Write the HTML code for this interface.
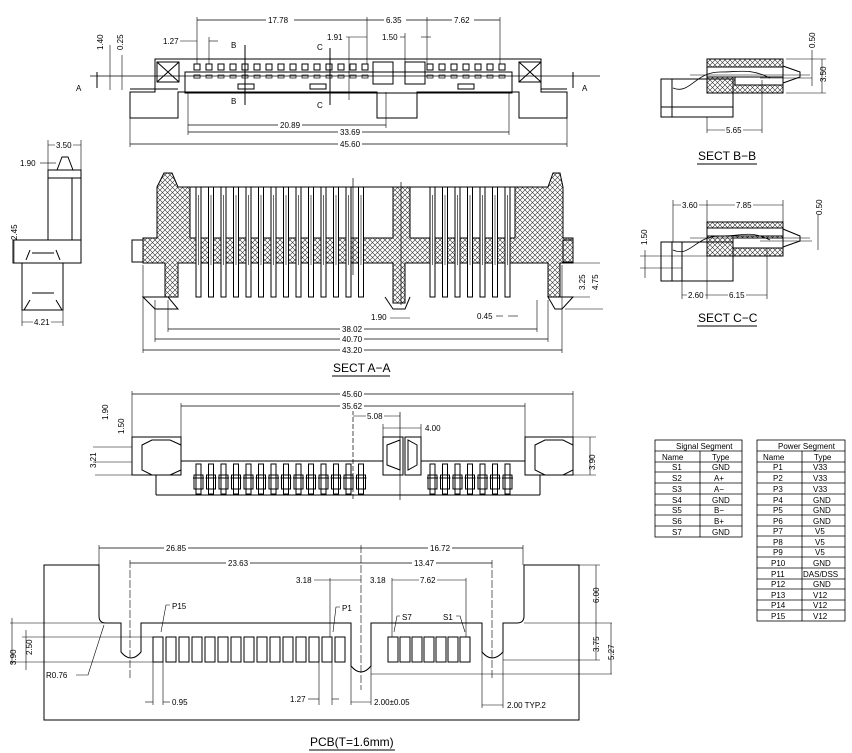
<!DOCTYPE html>
<html><head><meta charset="utf-8"><style>
html,body{margin:0;padding:0;background:#fff;}
svg{display:block;}
text{font-family:"Liberation Sans",sans-serif;font-size:8px;fill:#000;stroke:none;}
.t{font-size:12px;}
</style></head><body>
<svg width="852" height="753" viewBox="0 0 852 753" xmlns="http://www.w3.org/2000/svg" fill="none" stroke="#000" stroke-width="1">
<defs>
<pattern id="h" width="5" height="5" patternUnits="userSpaceOnUse">
<rect width="5" height="5" fill="#fff" stroke="none"/>
<path d="M0,0L5,5M5,0L0,5" stroke="#333" stroke-width="0.6"/>
</pattern>
</defs>

<!-- ===== TOP VIEW ===== -->
<g>
<path d="M155,59H541V92H567V118H519V92H417V118H377V92H178V118H130V92H155Z"/>
<rect x="185" y="72" width="327" height="21"/>
<line x1="178" y1="89" x2="130" y2="89"/>
<line x1="567" y1="89" x2="541" y2="89"/>
<rect x="157" y="62" width="22" height="20"/><path d="M157,62L179,82M179,62L157,82"/>
<rect x="519" y="62" width="22" height="20"/><path d="M519,62L541,82M541,62L519,82"/>
<rect x="373" y="62" width="20" height="22"/><rect x="405" y="62" width="20" height="22"/>
<g id="tp">
<rect x="194" y="64" width="6" height="6"/><rect x="194" y="75" width="6" height="3" fill="#fff" stroke-width="0.7"/>
</g>
<g>
<use href="#tp" x="0"/><use href="#tp" x="12"/><use href="#tp" x="24"/><use href="#tp" x="36"/><use href="#tp" x="48"/><use href="#tp" x="60"/><use href="#tp" x="72"/><use href="#tp" x="84"/><use href="#tp" x="96"/><use href="#tp" x="108"/><use href="#tp" x="120"/><use href="#tp" x="132"/><use href="#tp" x="144"/><use href="#tp" x="156"/><use href="#tp" x="168"/>
<use href="#tp" x="233"/><use href="#tp" x="245"/><use href="#tp" x="257"/><use href="#tp" x="269"/><use href="#tp" x="281"/><use href="#tp" x="293"/><use href="#tp" x="305"/>
</g>
<rect x="238" y="84" width="16" height="5"/><rect x="310" y="84" width="16" height="5"/><rect x="458" y="84" width="16" height="5"/>
<line x1="245" y1="45" x2="245" y2="105"/><line x1="330" y1="48" x2="330" y2="105"/>
<text x="231" y="48">B</text><text x="231" y="104">B</text><text x="317" y="50">C</text><text x="317" y="108">C</text>
<line x1="90" y1="76" x2="600" y2="76" stroke-width="0.8"/>
<text x="76" y="91">A</text><text x="582" y="91">A</text>
<line x1="97" y1="72" x2="97" y2="88"/><line x1="573" y1="72" x2="573" y2="88"/>
<line x1="197" y1="20" x2="500" y2="20" stroke-width="0.7"/>
<line x1="197" y1="17" x2="197" y2="64" stroke-width="0.6"/><line x1="367" y1="17" x2="367" y2="64" stroke-width="0.6"/><line x1="427" y1="17" x2="427" y2="64" stroke-width="0.6"/><line x1="500" y1="17" x2="500" y2="64" stroke-width="0.6"/>
<rect x="266" y="16" width="28" height="9" fill="#fff" stroke="none"/><text x="268" y="23">17.78</text>
<rect x="384" y="16" width="22" height="9" fill="#fff" stroke="none"/><text x="386" y="23">6.35</text>
<rect x="452" y="16" width="22" height="9" fill="#fff" stroke="none"/><text x="454" y="23">7.62</text>
<text x="163" y="44">1.27</text><line x1="180" y1="41" x2="197" y2="41" stroke-width="0.6"/><line x1="209" y1="41" x2="218" y2="41" stroke-width="0.6"/><line x1="209" y1="37" x2="209" y2="64" stroke-width="0.6"/>
<text x="327" y="40">1.91</text><line x1="346" y1="37" x2="367" y2="37" stroke-width="0.6"/><line x1="349" y1="37" x2="349" y2="100" stroke-width="0.6"/>
<text x="382" y="40">1.50</text><line x1="400" y1="37" x2="405" y2="37" stroke-width="0.6"/><line x1="421" y1="37" x2="431" y2="37" stroke-width="0.6"/><line x1="405" y1="33" x2="405" y2="62" stroke-width="0.6"/>
<text x="103" y="50" transform="rotate(-90 103 50)">1.40</text><text x="123" y="50" transform="rotate(-90 123 50)">0.25</text>
<line x1="110" y1="45" x2="110" y2="90" stroke-width="0.6"/><line x1="122" y1="55" x2="122" y2="90" stroke-width="0.6"/>
<line x1="188" y1="125" x2="386" y2="125" stroke-width="0.7"/><line x1="386" y1="92" x2="386" y2="128" stroke-width="0.6"/>
<rect x="278" y="121" width="24" height="9" fill="#fff" stroke="none"/><text x="280" y="128">20.89</text>
<line x1="188" y1="132" x2="509" y2="132" stroke-width="0.7"/><line x1="188" y1="92" x2="188" y2="135" stroke-width="0.6"/><line x1="509" y1="92" x2="509" y2="135" stroke-width="0.6"/>
<rect x="338" y="128" width="24" height="9" fill="#fff" stroke="none"/><text x="340" y="135">33.69</text>
<line x1="130" y1="144" x2="567" y2="144" stroke-width="0.7"/><line x1="130" y1="118" x2="130" y2="147" stroke-width="0.6"/><line x1="567" y1="118" x2="567" y2="147" stroke-width="0.6"/>
<rect x="338" y="140" width="24" height="9" fill="#fff" stroke="none"/><text x="340" y="147">45.60</text>
</g>

<!-- ===== LEFT SIDE VIEW ===== -->
<g>
<rect x="48" y="170" width="33" height="70"/>
<path d="M57,170L62,157H68L73,170"/>
<line x1="48" y1="178" x2="81" y2="178"/><line x1="72" y1="178" x2="72" y2="240"/>
<rect x="13" y="240" width="68" height="23"/>
<rect x="22" y="263" width="41" height="47"/>
<path d="M30,250L26,260M56,250L60,260M30,300L24,310M56,300L62,310"/>
<line x1="32" y1="253" x2="54" y2="253"/><line x1="32" y1="293" x2="54" y2="293"/>
<line x1="48" y1="140" x2="48" y2="170" stroke-width="0.6"/><line x1="81" y1="140" x2="81" y2="170" stroke-width="0.6"/>
<line x1="48" y1="145" x2="81" y2="145" stroke-width="0.6"/><rect x="55" y="141" width="18" height="9" fill="#fff" stroke="none"/><text x="56" y="148">3.50</text>
<text x="20" y="166">1.90</text><line x1="40" y1="163" x2="56" y2="163" stroke-width="0.6"/>
<text x="17" y="240" transform="rotate(-90 17 240)">2.45</text><line x1="14" y1="240" x2="14" y2="263" stroke-width="0.6"/>
<line x1="22" y1="310" x2="22" y2="326" stroke-width="0.6"/><line x1="63" y1="310" x2="63" y2="326" stroke-width="0.6"/>
<line x1="22" y1="322" x2="63" y2="322" stroke-width="0.6"/><rect x="33" y="318" width="18" height="9" fill="#fff" stroke="none"/><text x="34" y="325">4.21</text>
</g>

<!-- ===== SECT A-A ===== -->
<g>
<path d="M143,238H157V187L164,173H172L178,187H548L553,173H560L563,187V238H573V263H560V297H548V263H405V303H393V263H178V297H165V263H143Z" fill="url(#h)"/>
<rect x="190" y="187" width="203" height="51" fill="#fff"/>
<rect x="410" y="187" width="105" height="51" fill="#fff"/>
<rect x="132" y="240" width="11" height="22"/><rect x="563" y="240" width="10" height="22"/>
<path d="M143,297H168L178,309H155Z"/><path d="M548,297H573L562,309H555Z"/>
<path d="M385,297L393,309H405L410,297"/>
<g id="ap"><rect x="196" y="187" width="5" height="110" fill="#fff"/><line x1="198.5" y1="195" x2="198.5" y2="265" stroke-width="0.6"/></g>
<use href="#ap" x="12.5"/><use href="#ap" x="25"/><use href="#ap" x="37.5"/><use href="#ap" x="50"/><use href="#ap" x="62.5"/><use href="#ap" x="75"/><use href="#ap" x="87.5"/><use href="#ap" x="100"/><use href="#ap" x="112.5"/><use href="#ap" x="125"/><use href="#ap" x="137.5"/><use href="#ap" x="150"/><use href="#ap" x="162.5"/>
<use href="#ap" x="234"/><use href="#ap" x="246.5"/><use href="#ap" x="259"/><use href="#ap" x="271.5"/><use href="#ap" x="284"/><use href="#ap" x="296.5"/><use href="#ap" x="309"/>
<line x1="353" y1="178" x2="353" y2="275" stroke-width="0.7"/><line x1="401" y1="182" x2="401" y2="305" stroke-width="0.7"/>
<text x="371" y="320">1.90</text><line x1="390" y1="318" x2="410" y2="318" stroke-width="0.6"/>
<text x="477" y="319">0.45</text><line x1="496" y1="316" x2="503" y2="316" stroke-width="0.6"/><line x1="508" y1="316" x2="518" y2="316" stroke-width="0.6"/>
<line x1="168" y1="329" x2="537" y2="329" stroke-width="0.7"/><line x1="155" y1="339" x2="548" y2="339" stroke-width="0.7"/><line x1="143" y1="350" x2="562" y2="350" stroke-width="0.7"/>
<line x1="168" y1="300" x2="168" y2="332" stroke-width="0.6"/><line x1="537" y1="300" x2="537" y2="332" stroke-width="0.6"/>
<line x1="155" y1="300" x2="155" y2="342" stroke-width="0.6"/><line x1="548" y1="300" x2="548" y2="342" stroke-width="0.6"/>
<line x1="143" y1="265" x2="143" y2="353" stroke-width="0.6"/><line x1="562" y1="265" x2="562" y2="353" stroke-width="0.6"/>
<rect x="340" y="325" width="24" height="9" fill="#fff" stroke="none"/><text x="342" y="332">38.02</text>
<rect x="340" y="335" width="24" height="9" fill="#fff" stroke="none"/><text x="342" y="342">40.70</text>
<rect x="340" y="346" width="24" height="9" fill="#fff" stroke="none"/><text x="342" y="353">43.20</text>
<text class="t" x="333" y="372">SECT A−A</text><line x1="332" y1="376" x2="390" y2="376"/>
<text x="585" y="290" transform="rotate(-90 585 290)">3.25</text><text x="598" y="290" transform="rotate(-90 598 290)">4.75</text>
<line x1="565" y1="263" x2="600" y2="263" stroke-width="0.6"/><line x1="565" y1="297" x2="590" y2="297" stroke-width="0.6"/><line x1="565" y1="309" x2="603" y2="309" stroke-width="0.6"/>
</g>

<!-- ===== SECT B-B ===== -->
<g>
<rect x="707" y="59" width="76" height="34" fill="url(#h)"/>
<rect x="707" y="67" width="76" height="10" fill="#fff"/>
<rect x="735" y="77" width="48" height="8" fill="#fff"/>
<rect x="661" y="79" width="72" height="38"/><line x1="672" y1="79" x2="672" y2="117"/><line x1="661" y1="107" x2="733" y2="107"/>
<path d="M783,66L800,72V77L783,83"/>
<path d="M673,88C690,95 695,72 720,72C740,72 750,68 770,78" stroke-width="0.8"/>
<line x1="690" y1="75" x2="810" y2="75" stroke-width="0.6"/><line x1="760" y1="78" x2="812" y2="78" stroke-width="0.6"/>
<line x1="707" y1="117" x2="707" y2="133" stroke-width="0.6"/><line x1="762" y1="80" x2="762" y2="133" stroke-width="0.6"/>
<line x1="707" y1="130" x2="762" y2="130" stroke-width="0.6"/><rect x="725" y="126" width="18" height="9" fill="#fff" stroke="none"/><text x="726" y="133">5.65</text>
<text x="815" y="48" transform="rotate(-90 815 48)">0.50</text><text x="826" y="82" transform="rotate(-90 826 82)">3.50</text>
<line x1="812" y1="50" x2="812" y2="86" stroke-width="0.6"/><line x1="786" y1="59" x2="826" y2="59" stroke-width="0.6"/><line x1="786" y1="93" x2="826" y2="93" stroke-width="0.6"/><line x1="822" y1="59" x2="822" y2="93" stroke-width="0.6"/>
<text class="t" x="698" y="160">SECT B−B</text><line x1="697" y1="164" x2="757" y2="164"/>
</g>

<!-- ===== SECT C-C ===== -->
<g>
<rect x="707" y="222" width="76" height="34" fill="url(#h)"/>
<rect x="707" y="228" width="76" height="8" fill="#fff"/>
<rect x="733" y="238" width="50" height="10" fill="#fff"/>
<rect x="661" y="242" width="72" height="39"/><line x1="672" y1="242" x2="672" y2="281"/><line x1="682" y1="242" x2="682" y2="281"/>
<path d="M783,229L800,236V241L783,247"/>
<path d="M673,250C690,258 695,236 720,236C745,236 750,230 770,240" stroke-width="0.8"/>
<line x1="690" y1="238" x2="810" y2="238" stroke-width="0.6"/><line x1="760" y1="241" x2="812" y2="241" stroke-width="0.6"/>
<line x1="673" y1="200" x2="673" y2="242" stroke-width="0.6"/><line x1="707" y1="200" x2="707" y2="299" stroke-width="0.6"/><line x1="783" y1="200" x2="783" y2="222" stroke-width="0.6"/>
<line x1="673" y1="205" x2="783" y2="205" stroke-width="0.6"/>
<rect x="681" y="201" width="18" height="9" fill="#fff" stroke="none"/><text x="682" y="208">3.60</text>
<rect x="735" y="201" width="18" height="9" fill="#fff" stroke="none"/><text x="736" y="208">7.85</text>
<line x1="682" y1="281" x2="682" y2="299" stroke-width="0.6"/><line x1="767" y1="248" x2="767" y2="299" stroke-width="0.6"/>
<line x1="682" y1="295" x2="767" y2="295" stroke-width="0.6"/>
<rect x="687" y="291" width="18" height="9" fill="#fff" stroke="none"/><text x="688" y="298">2.60</text>
<rect x="728" y="291" width="18" height="9" fill="#fff" stroke="none"/><text x="729" y="298">6.15</text>
<text x="647" y="245" transform="rotate(-90 647 245)">1.50</text><line x1="645" y1="250" x2="645" y2="278" stroke-width="0.6"/>
<line x1="640" y1="256" x2="707" y2="256" stroke-width="0.6"/><line x1="640" y1="268" x2="682" y2="268" stroke-width="0.6"/>
<text x="822" y="215" transform="rotate(-90 822 215)">0.50</text><line x1="818" y1="215" x2="818" y2="250" stroke-width="0.6"/>
<text class="t" x="698" y="322">SECT C−C</text><line x1="697" y1="326" x2="757" y2="326"/>
</g>

<!-- ===== BOTTOM VIEW ===== -->
<g>
<rect x="132" y="437" width="49" height="38"/><rect x="525" y="437" width="48" height="38"/>
<path d="M142,445L152,440H170L181,445V470L170,475H152L142,470Z"/>
<path d="M535,445L545,440H563L573,445V470L563,475H545L535,470Z"/>
<rect x="383" y="437" width="20" height="38"/><rect x="405" y="437" width="16" height="38"/>
<path d="M387,445L400,440V470L387,465Z"/><path d="M417,445L408,440V470L417,465Z"/>
<line x1="181" y1="461" x2="383" y2="461"/><line x1="421" y1="461" x2="525" y2="461"/>
<line x1="156" y1="475" x2="156" y2="495"/><line x1="540" y1="475" x2="540" y2="495"/><line x1="156" y1="495" x2="540" y2="495"/>
<g id="bp"><rect x="196" y="464" width="5" height="30"/><rect x="194" y="475" width="9" height="14" fill="none"/><line x1="193" y1="478" x2="204" y2="478"/></g>
<use href="#bp" x="12.5"/><use href="#bp" x="25"/><use href="#bp" x="37.5"/><use href="#bp" x="50"/><use href="#bp" x="62.5"/><use href="#bp" x="75"/><use href="#bp" x="87.5"/><use href="#bp" x="100"/><use href="#bp" x="112.5"/><use href="#bp" x="125"/><use href="#bp" x="137.5"/><use href="#bp" x="150"/><use href="#bp" x="162.5"/>
<use href="#bp" x="234"/><use href="#bp" x="246.5"/><use href="#bp" x="259"/><use href="#bp" x="271.5"/><use href="#bp" x="284"/><use href="#bp" x="296.5"/><use href="#bp" x="309"/>
<line x1="353" y1="410" x2="353" y2="500" stroke-dasharray="5,2" stroke-width="0.7"/><line x1="400" y1="412" x2="400" y2="500" stroke-width="0.7"/>
<line x1="132" y1="394" x2="573" y2="394" stroke-width="0.7"/><line x1="132" y1="391" x2="132" y2="437" stroke-width="0.6"/><line x1="573" y1="391" x2="573" y2="437" stroke-width="0.6"/>
<rect x="340" y="390" width="24" height="9" fill="#fff" stroke="none"/><text x="342" y="397">45.60</text>
<line x1="181" y1="406" x2="525" y2="406" stroke-width="0.7"/><line x1="181" y1="403" x2="181" y2="461" stroke-width="0.6"/><line x1="525" y1="403" x2="525" y2="437" stroke-width="0.6"/>
<rect x="340" y="402" width="24" height="9" fill="#fff" stroke="none"/><text x="342" y="409">35.62</text>
<line x1="353" y1="416" x2="400" y2="416" stroke-width="0.6"/><rect x="366" y="412" width="18" height="9" fill="#fff" stroke="none"/><text x="367" y="419">5.08</text>
<line x1="383" y1="428" x2="421" y2="428" stroke-width="0.6"/><line x1="383" y1="424" x2="383" y2="437" stroke-width="0.6"/><line x1="421" y1="424" x2="421" y2="437" stroke-width="0.6"/><text x="425" y="431">4.00</text>
<text x="108" y="420" transform="rotate(-90 108 420)">1.90</text><text x="124" y="434" transform="rotate(-90 124 434)">1.50</text>
<text x="96" y="468" transform="rotate(-90 96 468)">3.21</text>
<line x1="93" y1="447" x2="132" y2="447" stroke-width="0.6"/><line x1="93" y1="462" x2="132" y2="462" stroke-width="0.6"/><line x1="95" y1="475" x2="132" y2="475" stroke-width="0.6"/>
<text x="595" y="470" transform="rotate(-90 595 470)">3.90</text><line x1="590" y1="437" x2="590" y2="475" stroke-width="0.6"/>
<line x1="573" y1="437" x2="596" y2="437" stroke-width="0.6"/><line x1="573" y1="475" x2="596" y2="475" stroke-width="0.6"/>
</g>

<!-- ===== TABLES ===== -->
<g stroke-width="0.8">
<rect x="655" y="440" width="87" height="97"/>
<line x1="655" y1="451" x2="742" y2="451"/><line x1="700" y1="451" x2="700" y2="537"/>
<line x1="655" y1="462" x2="742" y2="462"/><line x1="655" y1="472" x2="742" y2="472"/><line x1="655" y1="483" x2="742" y2="483"/><line x1="655" y1="494" x2="742" y2="494"/><line x1="655" y1="505" x2="742" y2="505"/><line x1="655" y1="515" x2="742" y2="515"/><line x1="655" y1="526" x2="742" y2="526"/>
</g>
<g font-size="9">
<text x="676" y="449">Signal  Segment</text>
<text x="662" y="460">Name</text><text x="712" y="460">Type</text>
<text x="672" y="470">S1</text><text x="712" y="470">GND</text>
<text x="672" y="481">S2</text><text x="714" y="481">A+</text>
<text x="672" y="492">S3</text><text x="714" y="492">A−</text>
<text x="672" y="503">S4</text><text x="712" y="503">GND</text>
<text x="672" y="513">S5</text><text x="714" y="513">B−</text>
<text x="672" y="524">S6</text><text x="714" y="524">B+</text>
<text x="672" y="535">S7</text><text x="712" y="535">GND</text>
</g>
<g stroke-width="0.8">
<rect x="757" y="440" width="88" height="181"/>
<line x1="757" y1="451" x2="845" y2="451"/><line x1="802" y1="451" x2="802" y2="621"/>
<line x1="757" y1="462" x2="845" y2="462"/><line x1="757" y1="472" x2="845" y2="472"/><line x1="757" y1="483" x2="845" y2="483"/><line x1="757" y1="494" x2="845" y2="494"/><line x1="757" y1="505" x2="845" y2="505"/><line x1="757" y1="515" x2="845" y2="515"/><line x1="757" y1="526" x2="845" y2="526"/><line x1="757" y1="536" x2="845" y2="536"/><line x1="757" y1="547" x2="845" y2="547"/><line x1="757" y1="557" x2="845" y2="557"/><line x1="757" y1="568" x2="845" y2="568"/><line x1="757" y1="579" x2="845" y2="579"/><line x1="757" y1="589" x2="845" y2="589"/><line x1="757" y1="600" x2="845" y2="600"/><line x1="757" y1="610" x2="845" y2="610"/>
</g>
<g font-size="9">
<text x="778" y="449">Power  Segment</text>
<text x="763" y="460">Name</text><text x="814" y="460">Type</text>
<text x="773" y="470">P1</text><text x="813" y="470">V33</text>
<text x="773" y="481">P2</text><text x="813" y="481">V33</text>
<text x="773" y="492">P3</text><text x="813" y="492">V33</text>
<text x="773" y="503">P4</text><text x="813" y="503">GND</text>
<text x="773" y="513">P5</text><text x="813" y="513">GND</text>
<text x="773" y="524">P6</text><text x="813" y="524">GND</text>
<text x="773" y="534">P7</text><text x="815" y="534">V5</text>
<text x="773" y="545">P8</text><text x="815" y="545">V5</text>
<text x="773" y="555">P9</text><text x="815" y="555">V5</text>
<text x="771" y="566">P10</text><text x="813" y="566">GND</text>
<text x="771" y="577">P11</text><text x="803" y="577" font-size="8">DAS/DSS</text>
<text x="771" y="587">P12</text><text x="813" y="587">GND</text>
<text x="771" y="598">P13</text><text x="813" y="598">V12</text>
<text x="771" y="608">P14</text><text x="813" y="608">V12</text>
<text x="771" y="619">P15</text><text x="813" y="619">V12</text>
</g>

<!-- ===== PCB ===== -->
<g>
<path d="M44,565H99V616Q99,623 106,623H121V652Q131,664 141,652V623H351V666Q361,678 371,666V623H482V652Q492,664 503,652V623H517Q524,623 524,616V565H579V720H44Z"/>
<g id="pd"><rect x="153" y="637" width="10" height="25"/></g>
<use href="#pd" x="13"/><use href="#pd" x="26"/><use href="#pd" x="39"/><use href="#pd" x="52"/><use href="#pd" x="65"/><use href="#pd" x="78"/><use href="#pd" x="91"/><use href="#pd" x="104"/><use href="#pd" x="117"/><use href="#pd" x="130"/><use href="#pd" x="143"/><use href="#pd" x="156"/><use href="#pd" x="169"/><use href="#pd" x="182"/>
<use href="#pd" x="235"/><use href="#pd" x="247"/><use href="#pd" x="259"/><use href="#pd" x="271"/><use href="#pd" x="283"/><use href="#pd" x="295"/><use href="#pd" x="307"/>
<line x1="10" y1="623" x2="106" y2="623" stroke-width="0.6"/><line x1="10" y1="662" x2="153" y2="662" stroke-width="0.6"/><line x1="22" y1="637" x2="153" y2="637" stroke-width="0.6"/>
<line x1="503" y1="660" x2="600" y2="660" stroke-width="0.6"/><line x1="371" y1="674" x2="612" y2="674" stroke-width="0.6"/><line x1="524" y1="623" x2="612" y2="623" stroke-width="0.6"/><line x1="579" y1="565" x2="600" y2="565" stroke-width="0.6"/>
<text x="16" y="665" transform="rotate(-90 16 665)">3.90</text><text x="32" y="655" transform="rotate(-90 32 655)">2.50</text>
<line x1="12" y1="618" x2="12" y2="665" stroke-width="0.6"/><line x1="26" y1="630" x2="26" y2="670" stroke-width="0.6"/>
<text x="599" y="603" transform="rotate(-90 599 603)">6.00</text><line x1="596" y1="565" x2="596" y2="623" stroke-width="0.6"/>
<text x="599" y="652" transform="rotate(-90 599 652)">3.75</text><line x1="596" y1="623" x2="596" y2="660" stroke-width="0.6"/>
<text x="614" y="660" transform="rotate(-90 614 660)">5.27</text><line x1="611" y1="623" x2="611" y2="674" stroke-width="0.6"/>
<line x1="99" y1="545" x2="99" y2="565" stroke-width="0.6"/><line x1="523" y1="545" x2="523" y2="565" stroke-width="0.6"/>
<line x1="99" y1="548" x2="523" y2="548" stroke-width="0.7"/>
<rect x="164" y="544" width="24" height="9" fill="#fff" stroke="none"/><text x="166" y="551">26.85</text>
<rect x="428" y="544" width="24" height="9" fill="#fff" stroke="none"/><text x="430" y="551">16.72</text>
<line x1="130" y1="563" x2="492" y2="563" stroke-width="0.7"/>
<line x1="130" y1="560" x2="130" y2="680" stroke-width="0.6" stroke-dasharray="8,2"/><line x1="492" y1="560" x2="492" y2="680" stroke-width="0.6" stroke-dasharray="8,2"/>
<line x1="361" y1="545" x2="361" y2="690" stroke-width="0.6" stroke-dasharray="8,2"/>
<rect x="226" y="559" width="24" height="9" fill="#fff" stroke="none"/><text x="228" y="566">23.63</text>
<rect x="412" y="559" width="24" height="9" fill="#fff" stroke="none"/><text x="414" y="566">13.47</text>
<text x="296" y="583">3.18</text><line x1="314" y1="580" x2="361" y2="580" stroke-width="0.6"/><line x1="330" y1="578" x2="330" y2="637" stroke-width="0.6"/>
<text x="370" y="583">3.18</text><line x1="392" y1="580" x2="466" y2="580" stroke-width="0.6"/><line x1="392" y1="578" x2="392" y2="637" stroke-width="0.6"/><line x1="466" y1="578" x2="466" y2="637" stroke-width="0.6"/>
<rect x="419" y="576" width="18" height="9" fill="#fff" stroke="none"/><text x="420" y="583">7.62</text>
<text x="172" y="609" font-size="10">P15</text><path d="M170,605H166L161,632" stroke-width="0.6"/>
<text x="342" y="611" font-size="10">P1</text><path d="M340,607H336L333,632" stroke-width="0.6"/>
<text x="402" y="620" font-size="10">S7</text><path d="M400,616H397L394,632" stroke-width="0.6"/>
<text x="443" y="620" font-size="10">S1</text><path d="M456,616H460L465,632" stroke-width="0.6"/>
<text x="46" y="678" font-size="10">R0.76</text><path d="M76,675H88L104,625" stroke-width="0.6"/>
<line x1="153" y1="662" x2="153" y2="705" stroke-width="0.6"/><line x1="163" y1="662" x2="163" y2="705" stroke-width="0.6"/>
<line x1="145" y1="702" x2="153" y2="702" stroke-width="0.6"/><line x1="163" y1="702" x2="170" y2="702" stroke-width="0.6"/><text x="172" y="705">0.95</text>
<line x1="319" y1="662" x2="319" y2="705" stroke-width="0.6"/><line x1="332" y1="662" x2="332" y2="705" stroke-width="0.6"/>
<text x="290" y="702">1.27</text><line x1="308" y1="699" x2="319" y2="699" stroke-width="0.6"/><line x1="332" y1="699" x2="339" y2="699" stroke-width="0.6"/>
<line x1="351" y1="666" x2="351" y2="705" stroke-width="0.6"/><line x1="371" y1="666" x2="371" y2="705" stroke-width="0.6"/>
<line x1="351" y1="702" x2="371" y2="702" stroke-width="0.6"/><text x="374" y="705">2.00±0.05</text>
<line x1="482" y1="652" x2="482" y2="708" stroke-width="0.6"/><line x1="503" y1="652" x2="503" y2="708" stroke-width="0.6"/>
<line x1="482" y1="705" x2="503" y2="705" stroke-width="0.6"/><text x="507" y="708">2.00  TYP.2</text>
<text class="t" x="310" y="746">PCB(T=1.6mm)</text><line x1="309" y1="750" x2="395" y2="750"/>
</g>
</svg>
</body></html>
